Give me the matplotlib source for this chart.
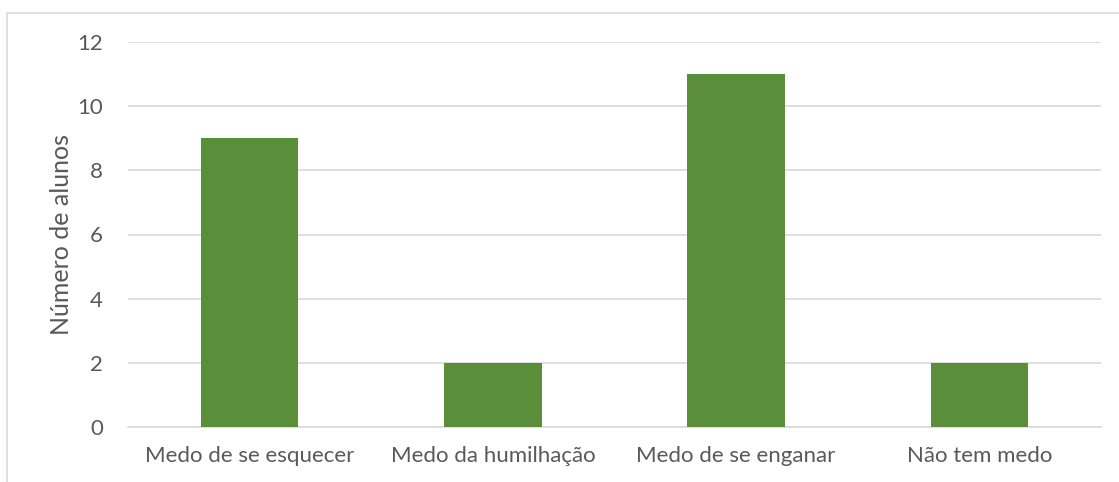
import matplotlib.pyplot as plt
from matplotlib.patches import Rectangle

categories = ['Medo de se esquecer', 'Medo da humilhação', 'Medo de se enganar', 'Não tem medo']
values = [9, 2, 11, 2]
yticks = [0, 2, 4, 6, 8, 10, 12]

plt.rcParams['font.family'] = ['Lato', 'DejaVu Sans']
txt = '#595959'

fig = plt.figure(figsize=(11.19, 4.82), dpi=100)
ax = fig.add_axes([128 / 1119, 1 - 427 / 482, (1101 - 128) / 1119, (427 - 42) / 482])

# outer chart border (partly cut off like the original)
fig.patches.append(Rectangle((7 / 1119, -0.1), 1.2, (482 - 13) / 482 + 0.1, transform=fig.transFigure,
                             fill=False, edgecolor='#D9D9D9', linewidth=1.2))

x = range(len(categories))
ax.bar(x, values, width=0.4, color='#5B8E3A', zorder=3)

ax.set_xlim(-0.5, len(categories) - 0.5)
ax.set_ylim(0, 12)
ax.set_yticks(yticks)
ax.set_xticks(list(x))
ax.set_xticklabels(categories)
ax.grid(axis='y', color='#D9D9D9', linewidth=1.2, zorder=0)
for s in ['top', 'right', 'left']:
    ax.spines[s].set_visible(False)
ax.spines['bottom'].set_color('#D9D9D9')
ax.spines['bottom'].set_linewidth(1.2)
ax.tick_params(length=0, labelsize=16, colors=txt, pad=14)
ax.tick_params(axis='y', pad=18)
ax.set_ylabel('Número de alunos', fontsize=18, color=txt, labelpad=3)

fig.savefig('out.png', dpi=100)
